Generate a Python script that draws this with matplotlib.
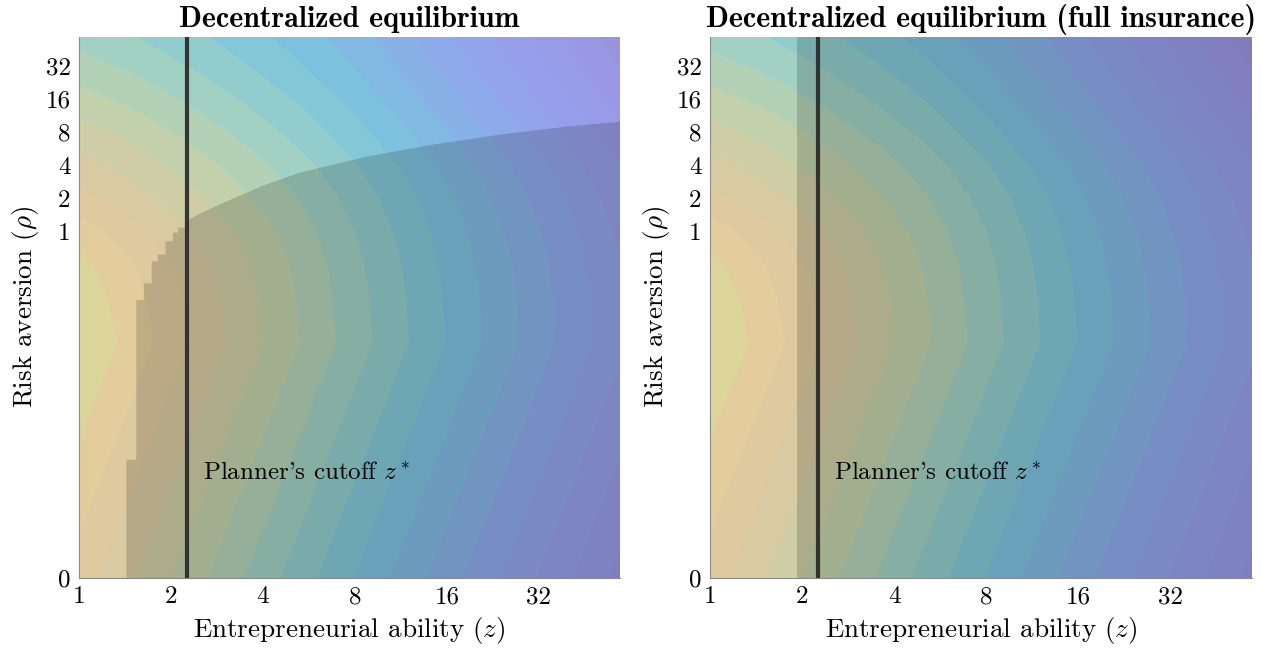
import numpy as np
import matplotlib
matplotlib.use("Agg")
import matplotlib.pyplot as plt
from matplotlib.patches import Polygon

plt.rcParams['font.family'] = 'serif'
plt.rcParams['font.serif'] = ['cmr10']
plt.rcParams['mathtext.fontset'] = 'cm'
plt.rcParams['axes.formatter.use_mathtext'] = True

# surface behind both panels, read off the contour bands
# (value in doublings of z; one row per rho node, one column per z node)
z_min, z_max = 1.0, 59.0
rho_min, rho_max = 0.00073, 58.0
z_nodes = [1.0, 1.52, 2.3, 3.48, 5.28, 8.0, 12.1, 27.9, 59.0]
rho_rows = [0.00073, 0.099, 0.25, 0.5, 1, 2, 4, 8, 16, 32, 58]
surface = [
    [1.00, 1.60, 2.20, 2.80, 3.40, 4.00, 4.60, 5.80, 6.88],
    [0.00, 0.60, 1.20, 1.80, 2.40, 3.00, 3.60, 4.80, 5.88],
    [0.12, 0.69, 1.27, 1.86, 2.44, 3.04, 3.63, 4.83, 5.91],
    [0.27, 0.81, 1.37, 1.93, 2.50, 3.09, 3.68, 4.87, 5.96],
    [0.59, 1.07, 1.57, 2.09, 2.63, 3.19, 3.77, 4.96, 6.05],
    [1.06, 1.45, 1.87, 2.33, 2.81, 3.35, 3.90, 5.09, 6.18],
    [1.45, 1.78, 2.17, 2.59, 3.04, 3.56, 4.10, 5.28, 6.38],
    [1.83, 2.14, 2.51, 2.91, 3.35, 3.84, 4.38, 5.54, 6.65],
    [2.24, 2.52, 2.87, 3.24, 3.65, 4.13, 4.65, 5.81, 6.92],
    [2.63, 2.89, 3.21, 3.56, 3.96, 4.41, 4.92, 6.07, 7.19],
    [2.95, 3.18, 3.48, 3.80, 4.18, 4.62, 5.12, 6.26, 7.38],
]

# decentralized entry cutoff (left panel): staircase then smooth curve
step_rho = [0.00073, 0.0086, 0.24, 0.34, 0.54, 0.62, 0.82, 0.98, 1.09, 1.23]
step_z = [1.43, 1.54, 1.63, 1.73, 1.81, 1.92, 2.03, 2.11, 2.22]
curve_z = [2.22, 2.49, 2.79, 3.19, 4.0, 5.29, 8.76, 14.4, 23.9, 39.4, 59.0]
curve_rho = [1.23, 1.46, 1.69, 1.99, 2.61, 3.43, 4.79, 6.15, 7.58, 8.95, 9.9]

# full insurance cutoff and planner's cutoff
cutoff_full_ins = 1.92
z_star = 2.26

z_ticks = [1, 2, 4, 8, 16, 32]
rho_ticks = [1, 2, 4, 8, 16, 32]

band_colors = ['#dcd69b', '#e3cd9d', '#dfcaa0', '#d8caa3', '#cecda5', '#c2d1ab',
               '#b2d1b6', '#a2d0c2', '#92cccc', '#84c7d6', '#7ec1de', '#82b9e3',
               '#88b1e7', '#8eaaea', '#93a4eb', '#969feb', '#989be8', '#9a97e4',
               '#9a94de', '#9a91d8', '#9a8ed1', '#978acb', '#9486c4']
first_level, level_step = 0.424, 0.397


def draw_panel(ax, title):
    u = np.log2(z_nodes)
    v = np.log2(rho_rows)
    levels = np.concatenate([[-5.0], first_level + level_step * np.arange(len(band_colors))])
    cs = ax.contourf(u, v, np.array(surface), levels=levels, colors=band_colors)
    cs.set_edgecolor('face')
    cs.set_linewidth(0.4)
    ax.set_xlim(np.log2(z_min), np.log2(z_max))
    ax.set_ylim(np.log2(rho_min), np.log2(rho_max))
    ax.set_xticks(np.log2(z_ticks))
    ax.set_xticklabels([str(t) for t in z_ticks])
    ax.set_yticks(np.concatenate([[np.log2(rho_min)], np.log2(rho_ticks)]))
    ax.set_yticklabels(['0'] + [str(t) for t in rho_ticks])
    ax.tick_params(length=0, labelsize=18, pad=6)
    for s in ['top', 'right']:
        ax.spines[s].set_visible(False)
    for s in ['left', 'bottom']:
        ax.spines[s].set_color('#8a8a8a')
        ax.spines[s].set_zorder(7)
    ax.axvline(np.log2(z_star), color='#262626', lw=3.0, alpha=0.9, zorder=5)
    ax.text(np.log2(2.55), np.log2(0.0065), r"Planner's cutoff $z^*$",
            fontsize=18, va='center', ha='left', zorder=6)
    ax.set_xlabel(r'Entrepreneurial ability ($z$)', fontsize=19.5, labelpad=5)
    ax.set_ylabel(r'Risk aversion ($\rho$)', fontsize=19.5, labelpad=3)
    ax.set_title(title, fontsize=21.5, family='cmb10', pad=7)


fig = plt.figure(figsize=(12.62, 6.52), dpi=100)
ax1 = fig.add_axes([79 / 1262, 74 / 652, 541 / 1262, 541 / 652])
ax2 = fig.add_axes([710 / 1262, 74 / 652, 542 / 1262, 541 / 652])

draw_panel(ax1, 'Decentralized equilibrium')
draw_panel(ax2, 'Decentralized equilibrium (full insurance)')

# entrepreneurs' region in the decentralized equilibrium
su = np.log2(step_z)
sv = np.log2(step_rho)
verts = [(su[0], sv[0])]
for i in range(len(su)):
    verts.append((su[i], sv[i]))
    verts.append((su[i], sv[i + 1]))
verts += list(zip(np.log2(curve_z), np.log2(curve_rho)))
verts.append((np.log2(z_max), np.log2(rho_min)))
ax1.add_patch(Polygon(verts, closed=True, facecolor='black', alpha=0.16,
                      edgecolor='none', zorder=3))

ax2.axvspan(np.log2(cutoff_full_ins), np.log2(z_max), color='black',
            alpha=0.16, lw=0, zorder=3)

fig.savefig('out.png', dpi=100)
